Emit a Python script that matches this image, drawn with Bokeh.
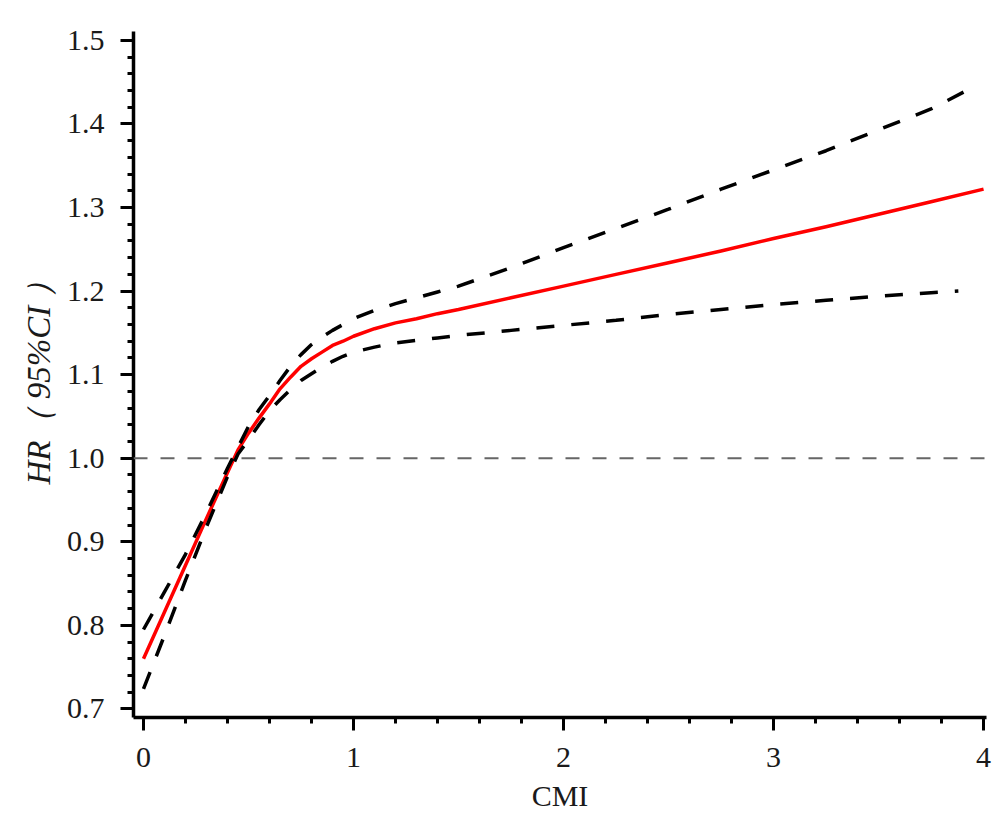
from bokeh.plotting import figure
from bokeh.models import Range1d, Span, SingleIntervalTicker, PrintfTickFormatter
from bokeh.embed import file_html
from bokeh.resources import INLINE

# CMI values and hazard ratio
x_fit = [0.00, 0.10, 0.20, 0.30, 0.40, 0.45, 0.50, 0.55, 0.60, 0.65, 0.70, 0.75,
         0.80, 0.85, 0.90, 0.95, 1.00, 1.10, 1.20, 1.30, 1.40, 1.50, 1.75, 2.00,
         2.25, 2.50, 2.75, 3.00, 3.25, 3.50, 3.75, 4.00]
hr = [0.760, 0.816, 0.872, 0.928, 0.983, 1.010, 1.030, 1.048, 1.065, 1.083, 1.097, 1.110,
      1.119, 1.127, 1.135, 1.140, 1.146, 1.155, 1.162, 1.167, 1.173, 1.178, 1.192, 1.206,
      1.220, 1.234, 1.248, 1.263, 1.277, 1.292, 1.307, 1.322]

x_upper = [0.00, 0.10, 0.20, 0.30, 0.40, 0.45, 0.50, 0.55, 0.60, 0.65, 0.70, 0.75,
           0.80, 0.85, 0.90, 0.95, 1.00, 1.10, 1.20, 1.30, 1.40, 1.50, 1.75, 2.00,
           2.25, 2.50, 2.75, 3.00, 3.25, 3.50, 3.75, 3.95]
ci_upper = [0.795, 0.840, 0.885, 0.935, 0.988, 1.013, 1.038, 1.058, 1.075, 1.093, 1.110, 1.124,
            1.136, 1.145, 1.153, 1.160, 1.167, 1.177, 1.185, 1.192, 1.199, 1.206, 1.228, 1.252,
            1.275, 1.298, 1.322, 1.345, 1.368, 1.393, 1.418, 1.444]

x_lower = [0.00, 0.10, 0.20, 0.30, 0.40, 0.45, 0.50, 0.55, 0.60, 0.65, 0.70, 0.75,
           0.80, 0.85, 0.90, 0.95, 1.00, 1.10, 1.20, 1.30, 1.40, 1.50, 1.75, 2.00,
           2.25, 2.50, 2.75, 3.00, 3.25, 3.50, 3.75, 3.88]
ci_lower = [0.724, 0.788, 0.854, 0.918, 0.978, 1.005, 1.022, 1.040, 1.057, 1.070, 1.082, 1.093,
            1.101, 1.109, 1.116, 1.122, 1.127, 1.133, 1.138, 1.141, 1.144, 1.147, 1.153, 1.159,
            1.165, 1.172, 1.178, 1.184, 1.189, 1.194, 1.198, 1.200]

reference_hr = 1.0
x_label = "CMI"
y_label = "HR（ 95%CI ）"

FONT = "Liberation Serif"

p = figure(width=995, height=814, output_backend="svg", toolbar_location=None,
           x_range=Range1d(-0.0476, 4.014), y_range=Range1d(0.6897, 1.5107),
           min_border_left=133, min_border_right=9, min_border_top=31, min_border_bottom=92)
p.outline_line_color = None
p.xgrid.visible = False
p.ygrid.visible = False
p.background_fill_color = "white"

p.line(x_fit, hr, line_color="#ff0000", line_width=3.5, line_join="round")
p.line(x_upper, ci_upper, line_color="black", line_width=3.5, line_dash="18 17")
p.line(x_lower, ci_lower, line_color="black", line_width=3.5, line_dash="18 17")

p.add_layout(Span(location=reference_hr, dimension="width", line_color="#666666",
                  line_width=2, line_dash="14 13"))

p.xaxis.ticker = SingleIntervalTicker(interval=1, num_minor_ticks=5)
p.yaxis.ticker = SingleIntervalTicker(interval=0.1, num_minor_ticks=5)
p.yaxis.formatter = PrintfTickFormatter(format="%.1f")

for ax in (p.xaxis, p.yaxis):
    ax.axis_line_width = 3.5
    ax.axis_line_color = "black"
    ax.major_tick_line_width = 3
    ax.minor_tick_line_width = 3
    ax.major_tick_in = 0
    ax.minor_tick_in = 0
    ax.major_tick_out = 13
    ax.minor_tick_out = 6
    ax.major_label_text_font = FONT
    ax.major_label_text_font_size = "30px"
    ax.major_label_text_color = "#1a1a1a"
    ax.axis_label_text_font = FONT
    ax.axis_label_text_font_size = "30px"
    ax.axis_label_text_color = "#1a1a1a"

p.xaxis.axis_label = x_label
p.xaxis.axis_label_text_font_style = "normal"
p.xaxis.major_label_standoff = 17
p.xaxis.axis_label_standoff = 9

p.yaxis.axis_label = y_label
p.yaxis.axis_label_text_font_style = "italic"
p.yaxis.axis_label_text_font_size = "33px"
p.yaxis.major_label_standoff = 16
p.yaxis.axis_label_standoff = 7

open("out.html", "w").write(file_html(p, INLINE))
